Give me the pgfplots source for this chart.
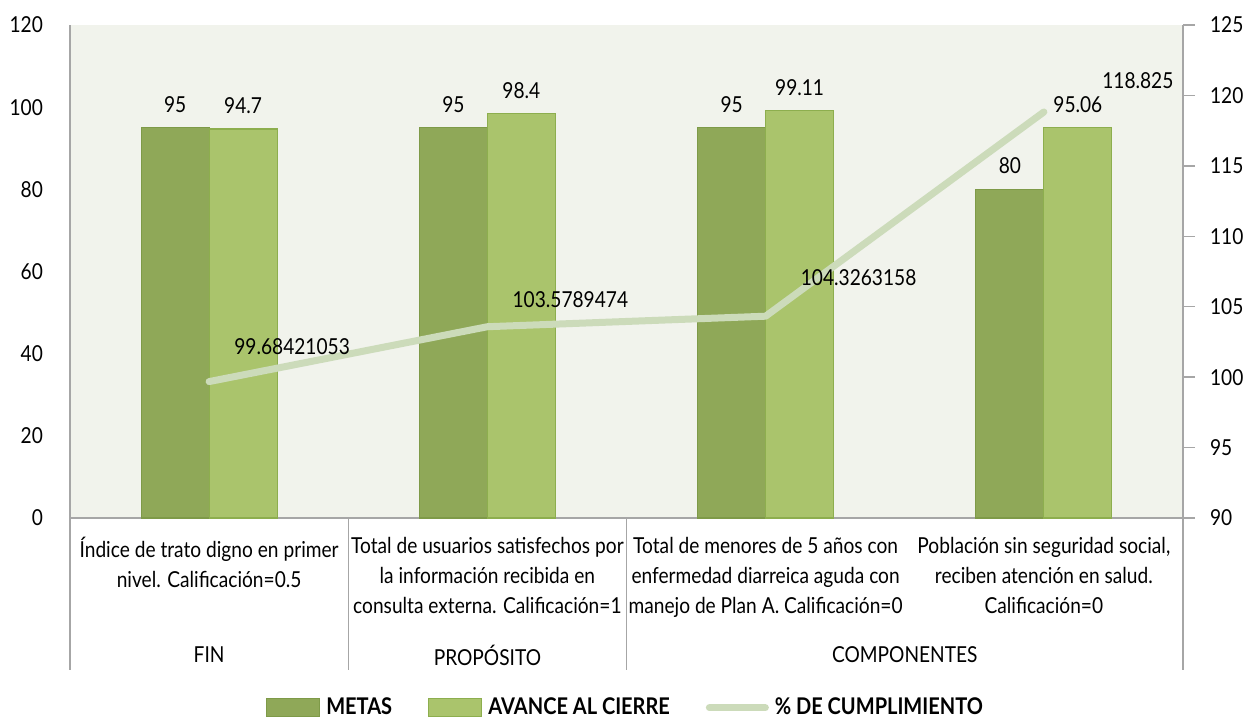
\documentclass[border=0pt]{standalone}
\usepackage{fontspec}
\setmainfont{Lato}[FakeStretch=0.87]
\usepackage{pgfplots}
\usepackage{pgfplotstable}
\pgfplotsset{compat=1.18}
\definecolor{metas}{HTML}{8FA858}
\definecolor{metasb}{HTML}{7E9A48}
\definecolor{avance}{HTML}{AAC46C}
\definecolor{avanceb}{HTML}{8DAE4E}
\definecolor{linec}{HTML}{CCDBBA}
\definecolor{bgc}{HTML}{F1F3EC}
\definecolor{axisgray}{HTML}{A6A6A6}
\pgfplotstableread{
x metas avance
0 95 94.7
1 95 98.4
2 95 99.11
3 80 95.06
}\bars
\pgfplotstableread{
x y dx dy label
0 99.68421053 41.5 17.5 99.68421053
1 103.5789474 41.5 13.5 103.5789474
2 104.3263158 46.5 19.5 104.3263158
3 118.825 47 15.5 118.825
}\linedata
\begin{document}
\begin{tikzpicture}[font=\fontsize{11}{14}\selectfont]
\begin{axis}[
  name=main,
  scale only axis, width=556.5pt, height=246.5pt,
  xmin=-0.5, xmax=3.5, ymin=0, ymax=120,
  ytick={0,20,...,120},
  axis x line*=bottom, axis y line*=left,
  axis line style={draw=axisgray, line width=0.7pt},
  axis background/.style={fill=bgc},
  ybar=0pt, bar width=34pt,
  xtick={0,1,2,3},
  xticklabels={{Índice de trato digno en primer\\[1pt]nivel. Calificación=0.5},
               {Total de usuarios satisfechos por\\[1pt]la información recibida en\\[1pt]consulta externa. Calificación=1},
               {Total de menores de 5 años con\\[1pt]enfermedad diarreica aguda con\\[1pt]manejo de Plan A. Calificación=0},
               {Población sin seguridad social,\\[1pt]reciben atención en salud.\\[1pt]Calificación=0}},
  xticklabel style={align=center, anchor=north, yshift=-6pt, font=\fontsize{11}{14}\selectfont},
  yticklabel style={xshift=-10pt, font=\fontsize{11}{14}\selectfont},
  major tick length=0pt,
  /pgf/number format/assume math mode=true,
  nodes near coords,
  every node near coord/.append style={font=\fontsize{11}{14}\selectfont, text=black, yshift=4pt},
  clip=false,
]
\addplot[fill=metas, draw=metasb, line width=0.6pt] table[x=x, y=metas]{\bars};
\addplot[fill=avance, draw=avanceb, line width=0.6pt] table[x=x, y=avance]{\bars};
\draw[axisgray, line width=0.7pt] (rel axis cs:0,0) -- ([yshift=-76pt]rel axis cs:0,0);
\draw[axisgray, line width=0.7pt] (rel axis cs:0.25,0) -- ([yshift=-76pt]rel axis cs:0.25,0);
\draw[axisgray, line width=0.7pt] (rel axis cs:0.5,0) -- ([yshift=-76pt]rel axis cs:0.5,0);
\draw[axisgray, line width=0.7pt] (rel axis cs:1,0) -- ([yshift=-76pt]rel axis cs:1,0);
\node at ([yshift=-68.5pt]rel axis cs:0.125,0) {FIN};
\node at ([yshift=-68.5pt]rel axis cs:0.375,0) {PROPÓSITO};
\node at ([yshift=-68.5pt]rel axis cs:0.75,0) {COMPONENTES};
\end{axis}
\begin{axis}[
  scale only axis, width=556.5pt, height=246.5pt,
  xmin=-0.5, xmax=3.5, ymin=90, ymax=125,
  axis y line*=right, axis x line=none,
  axis line style={draw=axisgray, line width=0.7pt},
  ytick={90,95,...,125},
  tick align=outside, major tick length=6pt,
  ytick style={draw=axisgray, line width=0.7pt},
  yticklabel style={xshift=4pt, font=\fontsize{11}{14}\selectfont},
  /pgf/number format/assume math mode=true,
  clip=false,
  legend columns=3,
  legend style={at={(0.5,-0.385)}, anchor=center, draw=none, fill=none,
    font=\fontsize{11.5}{14}\selectfont\bfseries,
    /tikz/every even column/.append style={column sep=16pt},
    /tikz/every odd column/.append style={column sep=1pt}},
]
\addlegendimage{legend image code/.code={\draw[fill=metas, draw=metasb, line width=0.6pt] (0pt,-4.5pt) rectangle (26.5pt,4.5pt);}}
\addlegendentry{METAS}
\addlegendimage{legend image code/.code={\draw[fill=avance, draw=avanceb, line width=0.6pt] (0pt,-4.5pt) rectangle (26.5pt,4.5pt);}}
\addlegendentry{AVANCE AL CIERRE}
\addplot[no markers, draw=linec, line width=3.5pt, line cap=round, line join=round,
  legend image code/.code={\draw[draw=linec, line width=3.5pt, line cap=round] (0pt,0pt) -- (28pt,0pt);},
  nodes near coords, point meta=explicit symbolic,
  visualization depends on={\thisrow{dx} \as \dx},
  visualization depends on={\thisrow{dy} \as \dy},
  every node near coord/.append style={anchor=center, text=black, xshift=\dx pt, yshift=\dy pt, font=\fontsize{11}{14}\selectfont}
] table[x=x, y=y, meta=label]{\linedata};
\addlegendentry{\% DE CUMPLIMIENTO}
\end{axis}
\pgfresetboundingbox
\path ([shift={(-35pt,-101pt)}]main.south west) rectangle ([shift={(31.5pt,12.5pt)}]main.north east);
\end{tikzpicture}
\end{document}
